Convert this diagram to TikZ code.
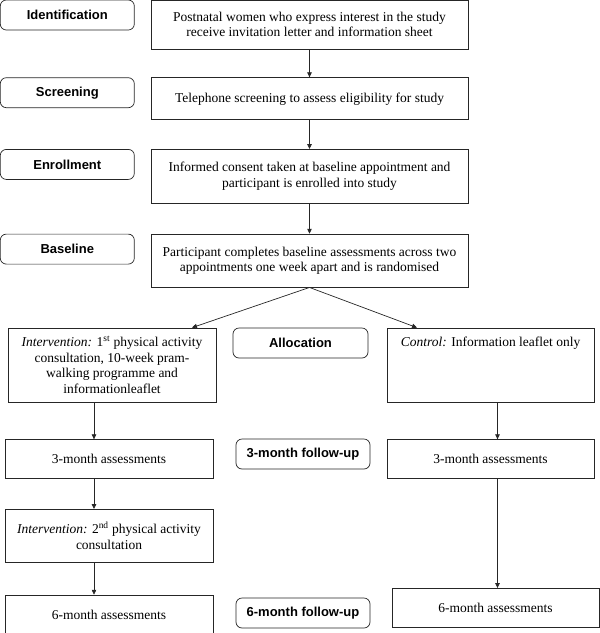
\documentclass[tikz,border=0pt]{standalone}
\usepackage{fontspec}
\setmainfont{Liberation Serif}
\setsansfont{Liberation Sans}
\usepackage{tikz}
\usetikzlibrary{arrows.meta, positioning}
\tikzstyle{stage} = [rectangle, draw, rounded corners=6pt, font=\sffamily\bfseries\fontsize{13}{15}\selectfont, minimum width=134pt, minimum height=30pt, inner sep=2pt]
\tikzstyle{box} = [rectangle, draw, align=center, font=\fontsize{13.5}{15.5}\selectfont, inner sep=3pt]
\tikzstyle{arrow} = [->, >={Triangle[length=5pt,width=4.5pt]}]

\begin{document}
\begin{tikzpicture}[x=1pt, y=1pt, line width=0.7pt, draw=black!85]

        \useasboundingbox (0,0) rectangle (600,-633);

        \tikzstyle{main} = [box, minimum width=317pt]
        \tikzstyle{side} = [box, minimum width=208pt]

        % Main column
        \node (invite) [main, minimum height=49pt] at (309.5,-24.5) {Postnatal women who express interest in the study\\receive invitation letter and information sheet};
        \node (phone) [main, minimum height=42pt, below=28pt of invite] {Telephone screening to assess eligibility for study};
        \node (consent) [main, minimum height=54pt, below=29pt of phone] {Informed consent taken at baseline appointment and\\participant is enrolled into study};
        \node (baseline) [main, minimum height=53pt, below=30pt of consent] {Participant completes baseline assessments across two\\appointments one week apart and is randomised};

        % Stage labels
        \node (ident) [stage, left=16pt of invite.north west, anchor=north east] {Identification};
        \node (screen) [stage, left=16pt of phone.north west, anchor=north east] {Screening};
        \node (enrol) [stage, left=16pt of consent.north west, anchor=north east] {Enrollment};
        \node (base) [stage, left=16pt of baseline.north west, anchor=north east] {Baseline};

        % Intervention arm
        \node (int1) [side, minimum height=74pt] at (112,-365) {\textit{Intervention:} 1\textsuperscript{st} physical activity\\consultation, 10-week pram-\\walking programme and\\informationleaflet};
        \node (int3m) [side, minimum height=39pt, below=37pt of int1, xshift=-3pt] {3-month assessments};
        \node (int2) [side, minimum height=53pt, below=30pt of int3m] {\textit{Intervention:} 2\textsuperscript{nd} physical activity\\consultation};
        \node (int6m) [side, minimum height=39pt, below=32pt of int2] {6-month assessments};

        % Control arm
        \node (ctrl) [side, minimum width=207pt, minimum height=74pt] at (490.5,-365) {\textit{Control:} Information leaflet only\\~\\~\\~};
        \node (ctrl3m) [side, minimum width=207pt, minimum height=39pt, below=37pt of ctrl] {3-month assessments};
        \node (ctrl6m) [side, minimum width=207pt, minimum height=39pt, below=109pt of ctrl3m, xshift=5pt] {6-month assessments};

        % Follow-up labels
        \node (alloc) [stage, minimum width=135pt] at (300.5,-343) {Allocation};
        \node (fu3) [stage] at (303,-454) {3-month follow-up};
        \node (fu6) [stage] at (303,-613) {6-month follow-up};

        % Solid arrows
        \draw [arrow] (invite.south) -- (phone.north);
        \draw [arrow] (phone.south) -- (consent.north);
        \draw [arrow] (consent.south) -- (baseline.north);
        \draw [arrow] (baseline.south) -- ([xshift=80pt]int1.north);
        \draw [arrow] (baseline.south) -- ([xshift=-73.5pt]ctrl.north);

        \coordinate (lx) at ([xshift=-18pt]int1.south);
        \coordinate (rx) at ([xshift=7pt]ctrl.south);
        \draw [arrow] (lx) -- (lx |- int3m.north);
        \draw [arrow] (lx |- int3m.south) -- (lx |- int2.north);
        \draw [arrow] (lx |- int2.south) -- (lx |- int6m.north);
        \draw [arrow] (rx) -- (rx |- ctrl3m.north);
        \draw [arrow] (rx |- ctrl3m.south) -- (rx |- ctrl6m.north);

    \end{tikzpicture}
\end{document}
